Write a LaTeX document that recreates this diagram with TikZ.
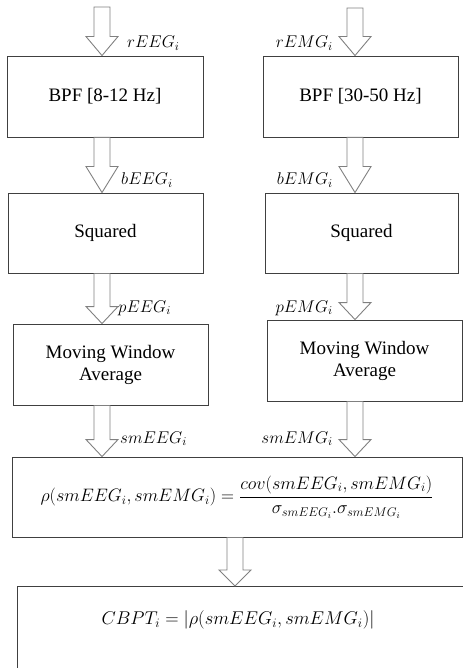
\RequirePackage{fix-cm}
\documentclass[tikz,border=0pt]{standalone}
\usepackage{fontspec}
\setmainfont{Liberation Serif}
\usetikzlibrary{calc}
\definecolor{boxc}{HTML}{404040}
\definecolor{arrc}{HTML}{808080}
\tikzset{
  box/.style={draw=boxc, line width=0.9pt, rectangle, inner sep=0pt, align=center,
    font=\fontsize{19}{22}\selectfont},
  barr/.style={draw=arrc, line width=0.9pt, line join=miter},
  lbl/.style={inner sep=0pt, font=\fontsize{17}{20}\selectfont}
}
% #1 from, #2 to, #3 centre x, #4 head length
\newcommand\blockarrow[4]{%
  \draw[barr] let \p1=(#1), \p2=(#2) in
    ({#3-8},\y1) -- ({#3-8},\y2+#4) -- ({#3-16},\y2+#4) -- (#3,\y2)
    -- ({#3+16},\y2+#4) -- ({#3+8},\y2+#4) -- ({#3+8},\y1) -- cycle;}
\begin{document}
\begin{tikzpicture}[x=1pt,y=-1pt]
\useasboundingbox (0,0) rectangle (463,668);
% boxes
\node[box, minimum width=196pt, minimum height=81pt] (bpfL) at (105,96.5) {BPF [8-12 Hz]};
\node[box, minimum width=195pt, minimum height=81pt] (bpfR) at (360.5,96.5) {BPF [30-50 Hz]};
\node[box, minimum width=195pt, minimum height=80pt] (sqL) at (105.5,233) {Squared};
\node[box, minimum width=193pt, minimum height=80pt] (sqR) at (361.5,233) {Squared};
\node[box, minimum width=195pt, minimum height=81pt] (mwaL) at (110.5,364.5) {Moving Window\\Average};
\node[box, minimum width=195pt, minimum height=81pt] (mwaR) at (364.5,360.5) {Moving Window\\Average};
\node[box, minimum width=450pt, minimum height=80pt, font=\fontsize{18}{21}\selectfont] (rho) at (237,497)
  {$\displaystyle \rho(smEEG_i,smEMG_i)=\frac{cov(smEEG_i,smEMG_i)}{\sigma_{smEEG_i}.\sigma_{smEMG_i}}$};
% last box (cut by the page edge)
\coordinate (cbBL) at (17,668);
\coordinate (cbTL) at (17,586);
\coordinate (cbTR) at (463,586);
\draw[draw=boxc, line width=0.9pt] (cbBL) -- (cbTL) -- (cbTR);
\node[inner sep=0pt, font=\fontsize{18.5}{21}\selectfont] (cbpt) at (238,620)
  {$CBPT_i=|\rho(smEEG_i,smEMG_i)|$};
% inputs
\coordinate (inL) at (102,7);
\coordinate (inR) at (355,8);
% arrows
\blockarrow{inL}{bpfL.north}{102}{19}
\blockarrow{inR}{bpfR.north}{355}{19}
\blockarrow{bpfL.south}{sqL.north}{102}{26}
\blockarrow{bpfR.south}{sqR.north}{355}{26}
\blockarrow{sqL.south}{mwaL.north}{102}{17}
\blockarrow{sqR.south}{mwaR.north}{355}{17}
\blockarrow{mwaL.south}{rho.north}{102}{17}
\blockarrow{mwaR.south}{rho.north}{355}{17}
\blockarrow{rho.south}{cbTL}{235}{16}
% labels
\node[lbl, anchor=base west] (lrEEG) at (127,48) {$rEEG_i$};
\node[lbl, anchor=base east] (lrEMG) at (333,48) {$rEMG_i$};
\node[lbl, anchor=base west] (lbEEG) at (121,185) {$bEEG_i$};
\node[lbl, anchor=base east] (lbEMG) at (333,185) {$bEMG_i$};
\node[lbl, anchor=base west] (lpEEG) at (118,312) {$pEEG_i$};
\node[lbl, anchor=base east] (lpEMG) at (333,312) {$pEMG_i$};
\node[lbl, anchor=base west] (lsmEEG) at (120,443) {$smEEG_i$};
\node[lbl, anchor=base east] (lsmEMG) at (333,443) {$smEMG_i$};
\end{tikzpicture}
\end{document}
